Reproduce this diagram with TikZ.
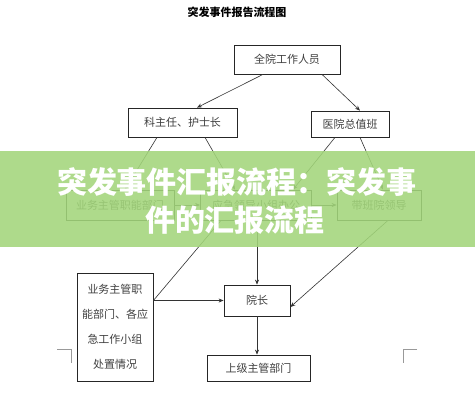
\documentclass[tikz,border=0pt]{standalone}
\usepackage{fontspec}
\newfontfamily\cjk{Noto Sans CJK SC}
\usetikzlibrary{arrows.meta,calc}
\definecolor{band}{RGB}{163,214,123}
\begin{document}
\begin{tikzpicture}[x=1pt,y=-1pt,
  box/.style={draw=black!85,line width=0.8pt,inner sep=0pt,font=\cjk\fontsize{11}{13}\selectfont,text=black!75},
  conn/.style={draw=black!80,line width=0.6pt,-{Stealth[length=5pt,width=4pt]}},
  plainline/.style={draw=black!80,line width=0.6pt},
  cropmark/.style={draw=black!40,line width=0.6pt},
  overlaytext/.style={font=\cjk\bfseries\fontsize{30}{32}\selectfont,text=white,inner sep=0pt}]
\useasboundingbox (0,0) rectangle (475,400);
\fill[white] (0,0) rectangle (475,400);
% title
\node[font=\cjk\bfseries\fontsize{11}{13}\selectfont,text=black] (T) at (237,12) {突发事件报告流程图};
% boxes
\node[box,minimum width=106,minimum height=29] (A) at (287,59.5) {全院工作人员};
\node[box,minimum width=109,minimum height=29] (B) at (182.5,122.5) {科主任、护士长};
\node[box,minimum width=78,minimum height=26] (C) at (350,124) {医院总值班};
\node[box,minimum width=108,minimum height=30] (D) at (120,205) {业务主管职能部门};
\node[box,minimum width=111,minimum height=30] (E) at (256,205) {应急领导小组办公};
\node[box,minimum width=84,minimum height=30] (F) at (379,205) {带班院领导};
\node[box,minimum width=76,minimum height=108,align=center,font=\cjk\fontsize{11}{25}\selectfont] (G) at (115,327) {业务主管职\\能部门、各应\\急工作小组\\处置情况};
\node[box,minimum width=66,minimum height=31] (H) at (257,300.5) {院长};
\node[box,minimum width=103,minimum height=26] (I) at (258.5,368) {上级主管部门};
% connectors
\draw[conn] ([xshift=-24pt]A.south) -- ([xshift=14.5pt]B.north);
\draw[conn] ([xshift=35pt]A.south) -- ([xshift=10pt]C.north);
\draw[conn] ([xshift=-25.5pt]B.south) -- ([xshift=5pt]D.north);
\draw[conn] ([xshift=22.5pt]B.south) -- ([xshift=-21pt]E.north);
\draw[conn] ([xshift=-15pt]C.south) -- ([xshift=37pt]E.north);
\draw[conn] ([xshift=10pt]C.south) -- ([xshift=4pt]F.north);
\draw[conn] (D.east) -- (E.west);
\draw[conn] (E.east) -- (F.west);
\coordinate (GH) at (G.east |- H.west);
\draw[plainline] ([xshift=-35pt]E.south) -- (GH);
\draw[conn] (GH) -- (H.west);
\draw[conn] (H.north |- E.south) -- (H.north);
\draw[conn] ([xshift=9pt]F.south) -- ([yshift=-6.5pt]H.east);
\draw[conn] (H.south) -- (H.south |- I.north);
% crop marks
\draw[cropmark] (57,349) -- (71,349) -- (71,363);
\draw[cropmark] (417,349) -- (403,349) -- (403,363);
% overlay band
\fill[band,fill opacity=0.88] (0,151) rectangle (475,247);
\node[overlaytext] (O1) at (237,182) {突发事件汇报流程：突发事};
\node[overlaytext] (O2) at (235,220) {件的汇报流程};
\end{tikzpicture}
\end{document}
